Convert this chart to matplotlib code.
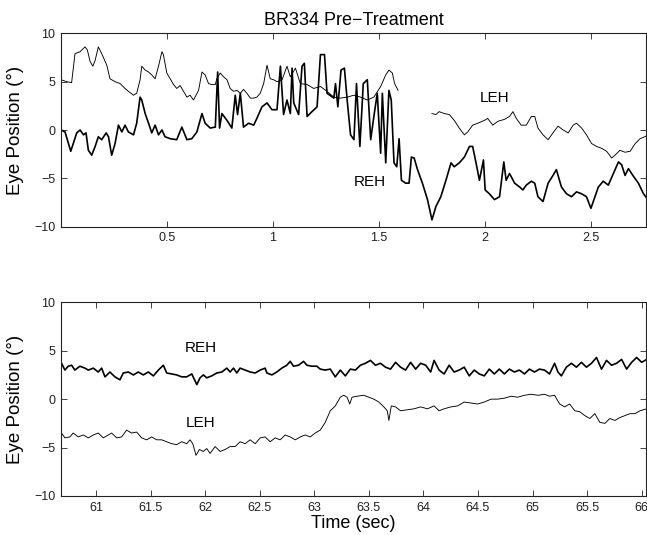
import matplotlib
matplotlib.use("Agg")
import matplotlib.pyplot as plt

# ---- top panel: BR334 pre-treatment, first seconds ----
top_leh_t = [0, 0.027, 0.050, 0.066, 0.090, 0.113, 0.124, 0.137, 0.150, 0.161,
             0.176, 0.192, 0.208, 0.216, 0.231, 0.255, 0.279, 0.302, 0.318, 0.342,
             0.357, 0.373, 0.381, 0.397, 0.413, 0.428, 0.444, 0.460, 0.476, 0.483,
             0.499, 0.515, 0.531, 0.546, 0.562, 0.578, 0.594, 0.609, 0.625, 0.649,
             0.665, 0.680, 0.696, 0.712, 0.728, 0.735, 0.751, 0.767, 0.783, 0.798,
             0.814, 0.830, 0.846, 0.861, 0.877, 0.893, 0.909, 0.924, 0.940, 0.956,
             0.972, 0.987, 1.003, 1.019, 1.043, 1.066, 1.082, 1.106, 1.129, 1.161,
             1.192, 1.224, 1.255, 1.287, 1.318, 1.350, 1.382, 1.413, 1.445, 1.476,
             1.508, 1.532, 1.547, 1.563, 1.574, 1.590]
top_leh_y = [5.2, 5.0, 4.9, 7.9, 8.1, 8.6, 8.3, 7.1, 6.6, 7.2,
             8.6, 7.9, 7.1, 6.7, 5.3, 5.0, 4.8, 4.3, 4.0, 3.6,
             3.8, 5.2, 6.6, 6.2, 6.0, 5.7, 5.3, 6.6, 8.1, 7.8,
             5.9, 5.3, 4.7, 4.3, 4.6, 4.0, 3.4, 3.6, 3.1, 4.1,
             6.0, 5.7, 4.8, 4.7, 4.7, 5.3, 5.9, 5.5, 5.2, 4.3,
             4.0, 4.1, 3.8, 4.2, 3.8, 3.3, 3.3, 3.4, 3.8, 4.8,
             6.7, 5.3, 5.2, 5.0, 5.2, 6.6, 5.5, 6.4, 4.8, 4.7,
             4.3, 4.5, 4.0, 3.4, 3.3, 3.4, 3.6, 3.4, 3.1, 3.4,
             4.5, 5.7, 6.2, 5.9, 4.8, 4.1]

# LEH after the gap (blink / lost signal)
top_leh2_t = [1.750, 1.769, 1.784, 1.808, 1.832, 1.855, 1.879, 1.903, 1.919, 1.942,
              1.966, 1.998, 2.013, 2.037, 2.061, 2.092, 2.116, 2.132, 2.148, 2.171,
              2.195, 2.219, 2.235, 2.250, 2.274, 2.298, 2.321, 2.345, 2.369, 2.393,
              2.416, 2.432, 2.456, 2.479, 2.503, 2.527, 2.551, 2.574, 2.598, 2.614,
              2.637, 2.661, 2.685, 2.709, 2.732, 2.764]
top_leh2_y = [1.7, 1.6, 1.9, 1.7, 1.6, 1.0, 0.2, -0.5, -0.2, 0.5,
              0.7, 1.0, 1.2, 0.5, 0.9, 1.1, 1.4, 1.9, 1.2, 0.5,
              0.5, 1.4, 1.4, 0.2, -0.5, -1.0, -0.3, 0.4, 0.0, -0.3,
              0.5, 0.7, 0.2, -0.5, -1.4, -1.7, -1.9, -2.2, -2.9, -2.6,
              -2.1, -2.3, -2.2, -1.4, -0.9, -0.6]

top_reh_t = [0.000, 0.019, 0.035, 0.046, 0.058, 0.074, 0.090, 0.106, 0.118, 0.129,
             0.145, 0.161, 0.176, 0.192, 0.213, 0.224, 0.239, 0.255, 0.271, 0.287,
             0.302, 0.318, 0.342, 0.357, 0.373, 0.381, 0.397, 0.413, 0.428, 0.444,
             0.460, 0.476, 0.491, 0.515, 0.546, 0.570, 0.594, 0.617, 0.641, 0.665,
             0.680, 0.704, 0.728, 0.739, 0.748, 0.759, 0.783, 0.806, 0.822, 0.833,
             0.846, 0.861, 0.885, 0.909, 0.924, 0.948, 0.972, 0.995, 1.019, 1.035,
             1.050, 1.066, 1.082, 1.090, 1.098, 1.121, 1.137, 1.148, 1.161, 1.184,
             1.208, 1.224, 1.243, 1.255,
             1.287, 1.295, 1.306, 1.321, 1.337, 1.350, 1.366, 1.382, 1.394, 1.410,
             1.426, 1.445, 1.461, 1.476, 1.492, 1.508, 1.516, 1.532, 1.547, 1.558,
             1.571, 1.584, 1.595, 1.606, 1.626, 1.642, 1.653, 1.666, 1.682, 1.705,
             1.729, 1.750, 1.769, 1.792, 1.816, 1.840, 1.855, 1.879, 1.903, 1.927,
             1.942, 1.958, 1.974, 1.993, 2.001, 2.021, 2.045, 2.069, 2.089, 2.100,
             2.116, 2.140, 2.164, 2.179, 2.195, 2.219, 2.235, 2.250, 2.274, 2.298,
             2.321, 2.337, 2.361, 2.385, 2.408, 2.432, 2.456, 2.479, 2.500, 2.519,
             2.535, 2.558, 2.582, 2.606, 2.630, 2.645, 2.661, 2.677, 2.701, 2.724,
             2.748, 2.769]
top_reh_y = [0.0, -0.2, -1.4, -2.2, -1.4, -0.3, 0.0, -0.5, -0.3, -2.1,
             -2.6, -1.7, -0.7, -1.0, -0.3, -0.7, -2.6, -1.4, 0.5, -0.2,
             0.5, -0.2, -0.5, 0.7, 3.4, 3.1, 1.7, 0.7, -0.3, 0.5,
             -0.5, 0.0, -0.7, -0.9, -1.0, 0.3, -1.0, -0.9, -0.2, 1.7,
             0.7, 0.2, 0.3, 6.0, 0.2, 1.7, 1.0, 0.2, 3.6, 1.6,
             3.8, 0.3, 0.7, 0.5, 1.2, 2.4, 2.8, 2.1, 2.1, 6.6,
             1.6, 3.1, 1.7, 6.4, 2.8, 1.6, 6.6, 6.9, 1.4, 1.9,
             2.4, 7.8, 7.8, 3.8,
             3.3, 4.8, 2.4, 6.2, 6.4, 3.1, -0.5, -1.0, 4.8, -1.7,
             4.8, 5.2, -1.0, 1.4, 3.8, -2.4, 3.8, -3.4, 4.1, 3.1,
             -3.4, -3.8, -0.9, -5.2, -5.5, -5.5, -2.8, -2.9, -4.1, -5.5,
             -7.2, -9.3, -7.9, -6.9, -5.2, -3.4, -3.8, -3.4, -2.8, -1.7,
             -1.7, -3.4, -5.2, -3.1, -6.2, -6.6, -7.2, -6.9, -3.3, -5.2,
             -4.5, -5.5, -5.9, -6.2, -5.7, -5.3, -5.5, -6.9, -7.4, -5.5,
             -4.7, -4.1, -5.9, -6.6, -6.9, -6.4, -6.6, -6.9, -8.1, -6.9,
             -5.9, -5.3, -5.7, -4.5, -3.3, -3.6, -4.7, -4.0, -4.8, -5.5,
             -6.6, -7.2]

# ---- bottom panel: later segment ----
bot_reh_t = [60.685, 60.716, 60.746, 60.777, 60.807, 60.853, 60.899, 60.930, 60.976, 61.021,
             61.052, 61.083, 61.128, 61.174, 61.220, 61.251, 61.297, 61.343, 61.388, 61.434,
             61.480, 61.526, 61.572, 61.618, 61.648, 61.694, 61.740, 61.786, 61.832, 61.878,
             61.924, 61.954, 61.985, 62.015, 62.061, 62.107, 62.153, 62.199, 62.229, 62.260,
             62.291, 62.321, 62.367, 62.413, 62.459, 62.505, 62.550, 62.566, 62.612, 62.657,
             62.703, 62.749, 62.780, 62.810, 62.856, 62.902, 62.933, 62.979, 63.024,
             63.055, 63.101, 63.147, 63.193, 63.239, 63.285, 63.331, 63.377, 63.423, 63.469,
             63.515, 63.561, 63.607, 63.653, 63.699, 63.745, 63.791, 63.837, 63.883, 63.929,
             63.975, 64.021, 64.067, 64.098, 64.144, 64.190, 64.236, 64.282, 64.328, 64.374,
             64.420, 64.466, 64.512, 64.558, 64.604, 64.650, 64.696, 64.742, 64.788, 64.834,
             64.880, 64.926, 64.972, 65.018, 65.064, 65.110, 65.156, 65.202, 65.233, 65.264,
             65.310, 65.356, 65.402, 65.448, 65.494, 65.540, 65.586, 65.632, 65.678, 65.724,
             65.770, 65.816, 65.862, 65.908, 65.954, 66.000, 66.046]
bot_reh_y = [3.7, 3.0, 3.4, 3.5, 3.0, 3.4, 3.2, 3.0, 3.2, 2.8,
             3.2, 2.3, 2.8, 2.3, 2.0, 2.7, 2.8, 2.5, 2.8, 2.5,
             2.8, 2.4, 3.0, 3.5, 2.7, 2.6, 2.5, 2.3, 2.3, 2.6,
             1.5, 2.2, 2.5, 2.2, 2.4, 2.7, 2.8, 3.2, 2.8, 3.2,
             2.7, 3.2, 3.0, 2.8, 2.7, 3.0, 3.2, 2.7, 2.5, 2.8,
             3.2, 3.5, 3.9, 3.4, 3.5, 3.9, 3.5, 3.4, 3.4,
             3.1, 3.0, 3.1, 2.3, 3.0, 2.4, 3.1, 3.0, 3.5, 3.7,
             4.0, 3.5, 3.7, 3.3, 3.1, 3.8, 3.3, 3.0, 3.8, 3.1,
             3.7, 3.5, 2.8, 4.0, 3.0, 2.6, 3.5, 2.8, 3.0, 3.3,
             2.4, 3.0, 2.6, 2.4, 3.1, 2.6, 3.1, 2.6, 3.1, 2.8,
             3.0, 2.6, 3.1, 2.8, 3.1, 3.0, 2.6, 3.7, 2.8, 2.4,
             3.3, 3.7, 3.3, 3.8, 3.3, 3.7, 4.3, 3.1, 4.0, 3.5,
             3.7, 4.1, 3.1, 3.8, 4.3, 3.8, 4.1]

bot_leh_t = [60.685, 60.716, 60.761, 60.792, 60.838, 60.884, 60.930, 60.976, 61.021, 61.067,
             61.113, 61.144, 61.190, 61.235, 61.281, 61.327, 61.373, 61.419, 61.465, 61.511,
             61.557, 61.602, 61.648, 61.694, 61.740, 61.786, 61.832, 61.862, 61.887, 61.917,
             61.948, 61.985, 62.015, 62.046, 62.092, 62.138, 62.183, 62.229, 62.275, 62.321,
             62.367, 62.413, 62.459, 62.505, 62.550, 62.596, 62.642, 62.688, 62.734, 62.780,
             62.826, 62.872, 62.917, 62.963, 63.009,
             63.055, 63.101, 63.147, 63.193, 63.239, 63.270, 63.301, 63.325, 63.347, 63.393,
             63.454, 63.500, 63.546, 63.592, 63.638, 63.669, 63.684, 63.706, 63.745, 63.791,
             63.853, 63.914, 63.975, 64.037, 64.098, 64.144, 64.190, 64.252, 64.313, 64.374,
             64.436, 64.497, 64.558, 64.620, 64.681, 64.742, 64.804, 64.865, 64.926, 64.988,
             65.049, 65.110, 65.156, 65.202, 65.248, 65.294, 65.340, 65.387, 65.433, 65.479,
             65.525, 65.571, 65.617, 65.663, 65.709, 65.755, 65.801, 65.847, 65.893, 65.939,
             65.985, 66.046]
bot_leh_y = [-3.5, -4.0, -3.9, -3.5, -3.9, -3.7, -4.0, -3.7, -3.5, -4.0,
             -3.7, -3.5, -4.0, -3.9, -3.2, -3.5, -3.4, -4.0, -4.2, -3.9,
             -4.2, -4.2, -4.4, -4.6, -4.7, -4.4, -4.6, -4.2, -4.6, -5.8,
             -5.2, -5.4, -5.1, -5.6, -4.9, -5.4, -5.2, -4.9, -4.9, -4.4,
             -4.6, -4.2, -4.6, -4.0, -3.9, -4.4, -4.0, -4.2, -3.7, -3.9,
             -4.2, -3.9, -3.7, -3.9, -3.5,
             -3.2, -2.4, -1.2, -0.7, 0.2, 0.4, 0.2, -0.5, 0.2, 0.3,
             0.4, 0.2, 0.0, -0.3, -0.8, -1.2, -2.2, -0.7, -0.8, -1.2,
             -1.1, -1.0, -0.8, -1.0, -0.7, -1.2, -1.0, -0.8, -0.7, -0.3,
             -0.4, -0.5, -0.3, 0.0, 0.0, 0.1, 0.3, 0.2, 0.4, 0.5,
             0.4, 0.5, 0.3, 0.4, -0.5, -0.8, -0.5, -1.2, -1.3, -1.7,
             -2.0, -1.5, -2.4, -2.5, -2.0, -2.2, -1.9, -1.7, -1.5, -1.5,
             -1.2, -1.0]

yticks = [-10, -5, 0, 5, 10]
top_xticks = [0.5, 1, 1.5, 2, 2.5]
top_xlabels = ['0.5', '1', '1.5', '2', '2.5']
bot_xticks = [61, 61.5, 62, 62.5, 63, 63.5, 64, 64.5, 65, 65.5, 66]
bot_xlabels = ['61', '61.5', '62', '62.5', '63', '63.5', '64', '64.5', '65', '65.5', '66']

plt.rcParams['font.family'] = ['Liberation Sans', 'DejaVu Sans']

fig = plt.figure(figsize=(6.47, 5.35), dpi=100)
ax1 = fig.add_axes([0.0943, 0.5763, 0.9042, 0.3614])
ax2 = fig.add_axes([0.0943, 0.0729, 0.9042, 0.3621])


def style(ax, xticks, xlabels):
	ax.set_ylim(-10, 10)
	ax.set_yticks(yticks)
	ax.set_xticks(xticks)
	ax.set_xticklabels(xlabels)
	ax.tick_params(direction='in', length=4, width=0.6, top=True, right=True,
				   labelsize=9, pad=4, colors='#222222')
	for s in ax.spines.values():
		s.set_linewidth(0.8)
		s.set_color('#222222')
	ax.set_ylabel('Eye Position (°)', fontsize=13.5, labelpad=7)


ax1.plot(top_leh_t, top_leh_y, color='black', lw=0.65)
ax1.plot(top_leh2_t, top_leh2_y, color='black', lw=0.65)
ax1.plot(top_reh_t, top_reh_y, color='black', lw=1.2)
ax1.set_xlim(0, 2.76)
style(ax1, top_xticks, top_xlabels)
ax1.set_title('BR334 Pre\u2212Treatment', fontsize=13, pad=6)
ax1.text(1.455, -5.4, 'REH', fontsize=11, ha='center', va='center')
ax1.text(2.044, 3.3, 'LEH', fontsize=11, ha='center', va='center')

ax2.plot(bot_reh_t, bot_reh_y, color='black', lw=1.2)
ax2.plot(bot_leh_t, bot_leh_y, color='black', lw=0.65)
ax2.set_xlim(60.68, 66.04)
style(ax2, bot_xticks, bot_xlabels)
ax2.set_xlabel('Time (sec)', fontsize=13, labelpad=1)
ax2.text(61.96, 5.3, 'REH', fontsize=11, ha='center', va='center')
ax2.text(61.96, -2.5, 'LEH', fontsize=11, ha='center', va='center')

fig.savefig('out.png', dpi=100)
